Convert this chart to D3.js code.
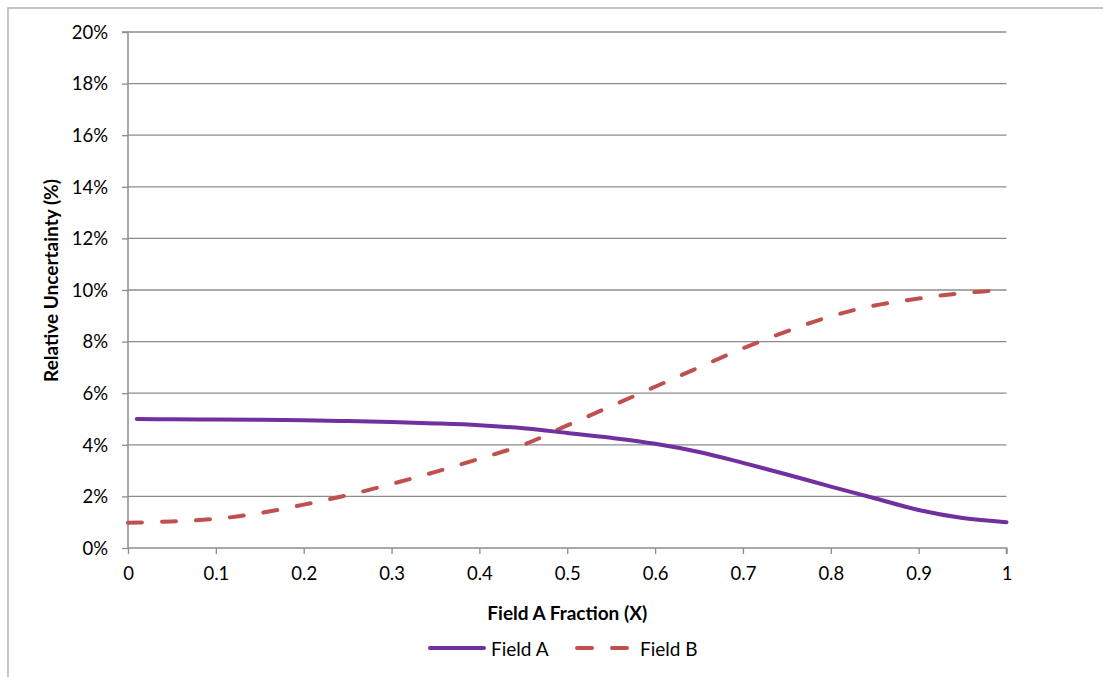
<!DOCTYPE html>
<html>
<head>
<meta charset="utf-8">
<script src="https://cdn.jsdelivr.net/npm/d3@7"></script>
<style>
html, body { margin: 0; padding: 0; background: #fff; }
svg { display: block; }
text { font-family: Lato, "Open Sans", sans-serif; fill: #000; }
</style>
</head>
<body>
<svg id="chart" width="1103" height="677"></svg>
<script>
// ---- data ----
const fractionA = [0.01, 0.05, 0.10, 0.15, 0.20, 0.25, 0.30, 0.35, 0.40, 0.45, 0.50, 0.55, 0.60, 0.65, 0.70, 0.75, 0.80, 0.85, 0.90, 0.95, 1.00];
const fieldA    = [5.00, 4.99, 4.98, 4.97, 4.95, 4.92, 4.88, 4.83, 4.76, 4.64, 4.46, 4.27, 4.04, 3.72, 3.30, 2.85, 2.38, 1.93, 1.47, 1.16, 1.00];
const fractionB = [0.00, 0.05, 0.10, 0.15, 0.20, 0.25, 0.30, 0.35, 0.40, 0.45, 0.50, 0.55, 0.60, 0.65, 0.70, 0.75, 0.80, 0.85, 0.90, 0.95, 1.00];
const fieldB    = [0.98, 1.03, 1.13, 1.35, 1.68, 2.05, 2.48, 2.95, 3.46, 4.00, 4.75, 5.50, 6.25, 7.00, 7.74, 8.40, 8.98, 9.40, 9.67, 9.88, 10.00];
const xTicks = [0, 0.1, 0.2, 0.3, 0.4, 0.5, 0.6, 0.7, 0.8, 0.9, 1];
const xTickLabels = ["0", "0.1", "0.2", "0.3", "0.4", "0.5", "0.6", "0.7", "0.8", "0.9", "1"];
const yTicks = [0, 2, 4, 6, 8, 10, 12, 14, 16, 18, 20];
const yTickLabels = ["0%", "2%", "4%", "6%", "8%", "10%", "12%", "14%", "16%", "18%", "20%"];
const seriesNames = ["Field A", "Field B"];
const xTitle = "Field A Fraction (X)";
const yTitle = "Relative Uncertainty (%)";

// ---- layout ----
const svg = d3.select("#chart");
const pL = 128, pR = 1006.5, pT = 32, pB = 548;
const grey = "#8c8c8c";
const colA = "#7030a0", colB = "#c0504d";
const tickFs = 18.5, titleFs = 19, legendFs = 19;

const x = d3.scaleLinear().domain([0, 1]).range([pL, pR]);
const y = d3.scaleLinear().domain([0, 20]).range([pB, pT]);

// outer frame
svg.append("rect").attr("x", 8).attr("y", 8).attr("width", 1200).attr("height", 800)
  .attr("fill", "none").attr("stroke", "#a6a6a6").attr("stroke-width", 1.3);

// gridlines
svg.append("g").selectAll("line").data(yTicks.slice(1)).join("line")
  .attr("x1", pL).attr("x2", pR)
  .attr("y1", d => y(d)).attr("y2", d => y(d))
  .attr("stroke", grey).attr("stroke-width", 1.3);

// y axis
const yAxis = d3.axisLeft(y).tickValues(yTicks).tickSize(6).tickPadding(14)
  .tickFormat((d, i) => yTickLabels[i]);
const gy = svg.append("g").attr("transform", `translate(${pL},0)`).call(yAxis);
gy.select(".domain").attr("stroke", grey).attr("stroke-width", 1.5).attr("d", `M-6,${pT}H0V${pB}`);
gy.selectAll(".tick line").attr("stroke", grey).attr("stroke-width", 1.3);
gy.selectAll(".tick text").attr("font-size", tickFs).attr("font-family", "Lato, sans-serif").attr("fill", "#000").attr("dy", "0.34em");

// x axis
const xAxis = d3.axisBottom(x).tickValues(xTicks).tickSize(6).tickPadding(13)
  .tickFormat((d, i) => xTickLabels[i]);
const gx = svg.append("g").attr("transform", `translate(0,${pB})`).call(xAxis);
gx.select(".domain").attr("stroke", grey).attr("stroke-width", 1.5).attr("d", `M${pL},0H${pR}V6`);
gx.selectAll(".tick line").attr("stroke", grey).attr("stroke-width", 1.3);
gx.selectAll(".tick text").attr("font-size", tickFs).attr("font-family", "Lato, sans-serif").attr("fill", "#000");

// lines
const line = d3.line().x(d => x(d[0])).y(d => y(d[1])).curve(d3.curveCatmullRom.alpha(0.5));
const dataA = fractionA.map((f, i) => [f, fieldA[i]]);
const dataB = fractionB.map((f, i) => [f, fieldB[i]]);

svg.append("path").attr("d", line(dataB)).attr("fill", "none").attr("stroke", colB)
  .attr("stroke-width", 4).attr("stroke-linecap", "round").attr("stroke-dasharray", "14 20");
svg.append("path").attr("d", line(dataA)).attr("fill", "none").attr("stroke", colA)
  .attr("stroke-width", 4).attr("stroke-linecap", "round");

// axis titles
svg.append("text").attr("x", (pL + pR) / 2).attr("y", 620)
  .attr("text-anchor", "middle").attr("font-size", titleFs).attr("font-weight", "bold").text(xTitle);
svg.append("text").attr("transform", `translate(58,${(pT + pB) / 2 - 9.5}) rotate(-90)`)
  .attr("text-anchor", "middle").attr("font-size", titleFs).attr("font-weight", "bold").text(yTitle);

// legend
const lg = svg.append("g");
lg.append("line").attr("x1", 430).attr("x2", 484).attr("y1", 648).attr("y2", 648)
  .attr("stroke", colA).attr("stroke-width", 4).attr("stroke-linecap", "round");
lg.append("text").attr("x", 491).attr("y", 656).attr("font-size", legendFs).text(seriesNames[0]);
lg.append("line").attr("x1", 577).attr("x2", 630).attr("y1", 648).attr("y2", 648)
  .attr("stroke", colB).attr("stroke-width", 4).attr("stroke-linecap", "round").attr("stroke-dasharray", "15 20");
lg.append("text").attr("x", 640).attr("y", 656).attr("font-size", legendFs).text(seriesNames[1]);
</script>
</body>
</html>
